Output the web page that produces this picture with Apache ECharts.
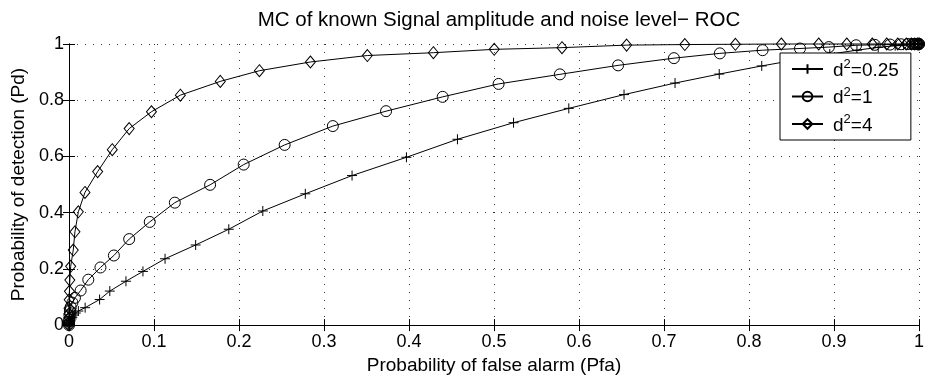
<!DOCTYPE html>
<html>
<head>
<meta charset="utf-8">
<script src="https://cdn.jsdelivr.net/npm/echarts@6/dist/echarts.min.js"></script>
<style>
html, body { margin: 0; padding: 0; background: #fff; }
#chart { width: 927px; height: 380px; }
</style>
</head>
<body>
<div id="chart"></div>
<script>
// d^2 = 0.25  (+ markers)
const pfa025 = [0, 0, 0.0003, 0.0007, 0.001, 0.002, 0.003, 0.004, 0.006, 0.008, 0.011, 0.019, 0.036, 0.048, 0.067, 0.087, 0.113, 0.149, 0.188, 0.228, 0.278, 0.333, 0.397, 0.457, 0.523, 0.588, 0.653, 0.713, 0.765, 0.815, 0.858, 0.895, 0.927, 0.952, 0.972, 0.982, 0.99, 0.995, 0.998, 0.999, 1, 1]
const pd025 = [0, 0.003, 0.005, 0.008, 0.01, 0.015, 0.022, 0.028, 0.036, 0.043, 0.05, 0.062, 0.091, 0.121, 0.156, 0.191, 0.236, 0.285, 0.341, 0.406, 0.467, 0.532, 0.597, 0.661, 0.72, 0.771, 0.82, 0.861, 0.893, 0.922, 0.945, 0.964, 0.978, 0.988, 0.994, 0.996, 0.998, 0.999, 1, 1, 1, 1]

// d^2 = 1  (o markers)
const pfa1 = [0, 0, 0, 0.0002, 0.0005, 0.001, 0.002, 0.004, 0.007, 0.0137, 0.0227, 0.037, 0.0528, 0.0708, 0.095, 0.1245, 0.166, 0.2055, 0.2537, 0.3104, 0.373, 0.4396, 0.5054, 0.5775, 0.646, 0.7117, 0.7657, 0.816, 0.86, 0.894, 0.926, 0.948, 0.966, 0.979, 0.987, 0.992, 0.995, 0.997, 0.999, 1, 1]
const pd1 = [0, 0.005, 0.012, 0.02, 0.035, 0.05, 0.065, 0.08, 0.097, 0.123, 0.1616, 0.205, 0.2476, 0.306, 0.367, 0.4356, 0.499, 0.571, 0.641, 0.708, 0.761, 0.812, 0.858, 0.892, 0.924, 0.9496, 0.9667, 0.978, 0.984, 0.989, 0.9956, 0.997, 0.998, 0.999, 1, 1, 1, 1, 1, 1, 1]

// d^2 = 4  (diamond markers)
const pfa4 = [0, 0, 0, 0, 0, 0.0002, 0.0005, 0.001, 0.002, 0.005, 0.007, 0.011, 0.0188, 0.0337, 0.0509, 0.0708, 0.097, 0.131, 0.178, 0.224, 0.284, 0.351, 0.4287, 0.5003, 0.58, 0.656, 0.7245, 0.784, 0.838, 0.882, 0.915, 0.945, 0.962, 0.975, 0.985, 0.991, 0.995, 0.998, 1, 1]
const pd4 = [0, 0.01, 0.025, 0.04, 0.06, 0.09, 0.12, 0.16, 0.209, 0.267, 0.332, 0.403, 0.472, 0.546, 0.624, 0.699, 0.759, 0.818, 0.867, 0.905, 0.936, 0.959, 0.969, 0.981, 0.987, 0.996, 0.998, 0.999, 1, 1, 1, 1, 1, 1, 1, 1, 1, 1, 1, 1]

const seriesNames = ['d2=0.25', 'd2=1', 'd2=4']
const legendText = {
    'd2=0.25': '{g|}{n|d}{s|2}{n|=0.25}',
    'd2=1': '{g|}{n|d}{s|2}{n|=1}',
    'd2=4': '{g|}{n|d}{s|2}{n|=4}'
}

function pairs (xs, ys) {
    let out = []
    for (var i = 0; i < xs.length; i++) {
        out.push([xs[i], ys[i]])
    }
    return out
}

const FONT = 'Liberation Sans, Arial, Helvetica, sans-serif'
const PLUS = 'path://M0,5L10,5M5,0L5,10'

function curve (name, xs, ys, symbol, size) {
    return {
        name: name,
        type: 'line',
        data: pairs(xs, ys),
        symbol: symbol,
        symbolSize: size,
        showAllSymbol: true,
        clip: false,
        lineStyle: { color: '#000', width: 1 },
        itemStyle: { color: 'rgba(0,0,0,0)', borderColor: '#000', borderWidth: 1 },
        emphasis: { disabled: true },
        animation: false
    }
}

const baseAxis = {
    type: 'value',
    min: 0,
    max: 1,
    axisLine: { show: true, lineStyle: { color: '#000', width: 1 } },
    axisTick: { show: true, inside: true, length: 6, lineStyle: { color: '#000' } },
    splitLine: { show: false }
}

const myChart = echarts.init(document.getElementById('chart'))
myChart.setOption({
    backgroundColor: '#fff',
    animation: false,
    title: {
        text: 'MC of known Signal amplitude and noise level\u2212 ROC',
        left: 494,
        top: 5,
        textAlign: 'center',
        textStyle: { fontFamily: FONT, fontSize: 20.5, fontWeight: 'normal', color: '#000' }
    },
    grid: { left: 69, right: 6, top: 44, bottom: 52.5 },
    legend: {
        data: seriesNames,
        orient: 'vertical',
        left: 780,
        top: 53,
        itemWidth: 31,
        itemHeight: 12,
        itemGap: 5.5,
        padding: [5, 12, 5, 11],
        backgroundColor: '#fff',
        borderColor: '#000',
        borderWidth: 1,
        borderRadius: 0,
        formatter: function (name) { return legendText[name] },
        textStyle: {
            fontFamily: FONT,
            color: '#000',
            rich: {
                g: { width: 5, lineHeight: 22 },
                n: { fontFamily: FONT, fontSize: 19, color: '#000', lineHeight: 22, verticalAlign: 'bottom' },
                s: { fontFamily: FONT, fontSize: 13, color: '#000', lineHeight: 13, verticalAlign: 'top' }
            }
        }
    },
    xAxis: [
        Object.assign({}, baseAxis, {
            position: 'bottom',
            interval: 0.1,
            name: 'Probability of false alarm (Pfa)',
            nameLocation: 'middle',
            nameGap: 29,
            nameTextStyle: { fontFamily: FONT, fontSize: 19, color: '#000' },
            axisLabel: { fontFamily: FONT, fontSize: 18, color: '#000', margin: 8 },
            splitLine: { show: true, lineStyle: { color: '#333', width: 1, type: [1, 7] } }
        }),
        Object.assign({}, baseAxis, {
            position: 'top',
            interval: 0.1,
            axisLabel: { show: false }
        })
    ],
    yAxis: [
        Object.assign({}, baseAxis, {
            position: 'left',
            interval: 0.2,
            name: 'Probability of detection (Pd)',
            nameLocation: 'middle',
            nameGap: 41,
            nameTextStyle: { fontFamily: FONT, fontSize: 19, color: '#000' },
            axisLabel: { fontFamily: FONT, fontSize: 18, color: '#000', margin: 5 },
            splitLine: { show: true, lineStyle: { color: '#333', width: 1, type: [1, 7] } }
        }),
        Object.assign({}, baseAxis, {
            position: 'right',
            interval: 0.2,
            axisLabel: { show: false }
        })
    ],
    series: [
        curve('d2=0.25', pfa025, pd025, PLUS, 10),
        curve('d2=1', pfa1, pd1, 'circle', 11),
        curve('d2=4', pfa4, pd4, 'diamond', [10, 12])
    ]
})
</script>
</body>
</html>
